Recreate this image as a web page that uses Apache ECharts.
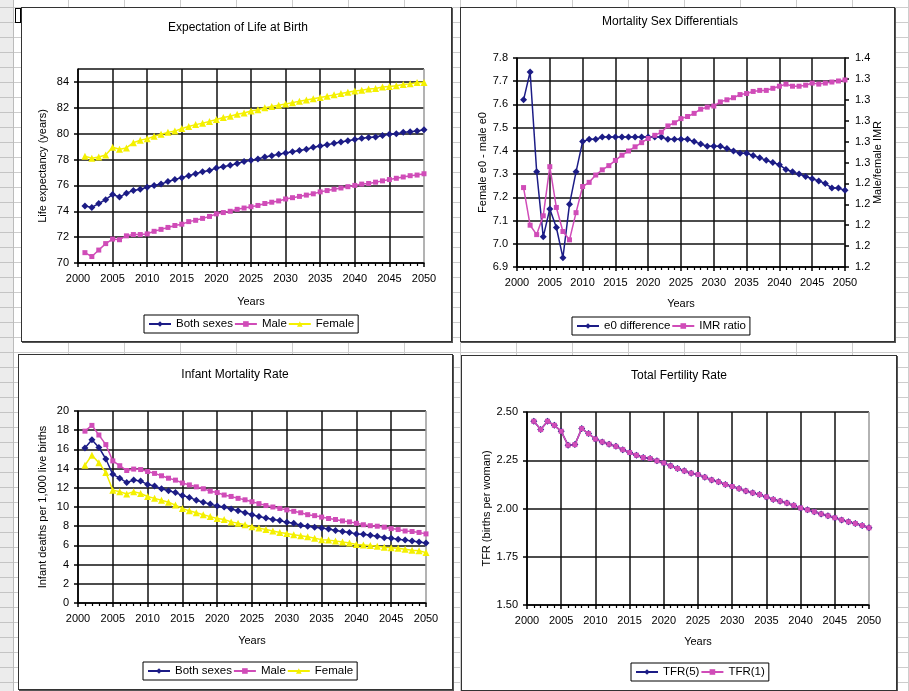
<!DOCTYPE html>
<html>
<head>
<meta charset="utf-8">
<script src="https://cdn.jsdelivr.net/npm/echarts@6/dist/echarts.min.js"></script>
<style>
html,body{margin:0;padding:0;}
body{width:909px;height:691px;overflow:hidden;position:relative;background-color:#fff;
background-image:linear-gradient(to right,#cdcdcd 1px,transparent 1px),linear-gradient(to bottom,#cdcdcd 1px,transparent 1px);
background-size:56px 15px;background-position:12px 7px;}
#rowhdr{position:absolute;left:0;top:0;width:13px;height:691px;background:#ececec;
background-image:linear-gradient(to bottom,#c4c4c4 1px,transparent 1px);background-size:13px 15px;background-position:0 7px;border-right:1px solid #bbb;}
.panel{position:absolute;box-sizing:border-box;background:#fff;border:1px solid #333;box-shadow:1px 1px 0 #555;}
.chart{position:absolute;left:0;top:0;right:0;bottom:0;}
#handle{position:absolute;left:15px;top:8px;width:4px;height:13px;border:1px solid #000;background:#fff;}
</style>
</head>
<body>
<div id="rowhdr"></div>
<div class="panel" style="left:21px;top:7px;width:431px;height:335px;"><div class="chart" id="c1"></div></div>
<div class="panel" style="left:460px;top:7px;width:435px;height:335px;"><div class="chart" id="c2"></div></div>
<div class="panel" style="left:18px;top:354px;width:435px;height:336px;"><div class="chart" id="c3"></div></div>
<div class="panel" style="left:461px;top:355px;width:436px;height:336px;"><div class="chart" id="c4"></div></div>
<div id="handle"></div>
<script>
// ---------- DATA ----------
const years = [2001,2002,2003,2004,2005,2006,2007,2008,2009,2010,
2011,2012,2013,2014,2015,2016,2017,2018,2019,2020,
2021,2022,2023,2024,2025,2026,2027,2028,2029,2030,
2031,2032,2033,2034,2035,2036,2037,2038,2039,2040,
2041,2042,2043,2044,2045,2046,2047,2048,2049,2050];

// Expectation of Life at Birth
const e0Both = [74.4,74.3,74.6,74.9,75.3,75.1,75.4,75.6,75.7,75.85,
76.0,76.1,76.3,76.45,76.6,76.75,76.9,77.05,77.15,77.35,
77.45,77.55,77.7,77.85,77.95,78.05,78.2,78.3,78.4,78.5,
78.6,78.7,78.8,78.95,79.05,79.15,79.25,79.35,79.45,79.55,
79.65,79.7,79.75,79.85,79.95,80.0,80.1,80.15,80.2,80.3];
const e0Male = [70.8,70.5,71.0,71.5,71.85,71.8,72.1,72.2,72.2,72.25,
72.45,72.6,72.75,72.9,73.0,73.2,73.3,73.45,73.6,73.8,
73.9,74.0,74.15,74.25,74.35,74.45,74.6,74.7,74.8,74.95,
75.05,75.15,75.25,75.35,75.5,75.6,75.7,75.8,75.9,76.0,
76.1,76.15,76.25,76.35,76.45,76.55,76.65,76.75,76.8,76.9];
const e0Female = [78.25,78.1,78.2,78.35,78.95,78.8,78.9,79.3,79.5,79.6,
79.8,79.95,80.1,80.2,80.4,80.55,80.7,80.8,80.95,81.1,
81.25,81.35,81.5,81.6,81.75,81.85,82.0,82.1,82.2,82.3,
82.4,82.5,82.6,82.7,82.8,82.9,83.0,83.1,83.2,83.3,
83.35,83.45,83.5,83.6,83.65,83.7,83.8,83.85,83.95,83.95];

// Mortality Sex Differentials
const e0Diff = [7.62,7.74,7.31,7.03,7.15,7.07,6.94,7.17,7.31,7.44,
7.45,7.45,7.46,7.46,7.46,7.46,7.46,7.46,7.46,7.46,
7.46,7.46,7.45,7.45,7.45,7.45,7.44,7.43,7.42,7.42,
7.42,7.41,7.40,7.39,7.39,7.38,7.37,7.36,7.35,7.34,
7.32,7.31,7.30,7.29,7.28,7.27,7.26,7.24,7.24,7.23];
const imrRatio = [1.236,1.200,1.191,1.209,1.256,1.217,1.194,1.186,1.212,1.237,
1.241,1.248,1.253,1.257,1.262,1.267,1.271,1.275,1.279,1.283,
1.286,1.289,1.295,1.298,1.302,1.304,1.307,1.311,1.313,1.314,
1.318,1.320,1.322,1.325,1.326,1.328,1.329,1.329,1.331,1.333,
1.335,1.333,1.333,1.334,1.336,1.335,1.336,1.337,1.338,1.339];

// Infant Mortality Rate
const imrBoth = [16.15,17.0,16.2,15.0,13.4,13.0,12.55,12.8,12.7,12.35,
12.2,11.9,11.7,11.5,11.2,11.0,10.7,10.5,10.3,10.1,
10.0,9.8,9.6,9.4,9.2,9.0,8.85,8.7,8.6,8.4,
8.3,8.1,8.0,7.9,7.8,7.7,7.55,7.45,7.35,7.2,
7.15,7.05,6.95,6.8,6.75,6.65,6.55,6.45,6.35,6.25];
const imrMale = [17.9,18.5,17.5,16.5,14.8,14.3,13.8,13.95,13.9,13.7,
13.5,13.25,13.0,12.8,12.5,12.3,12.1,11.9,11.65,11.5,
11.25,11.1,10.9,10.75,10.55,10.35,10.15,10.0,9.85,9.7,
9.55,9.4,9.2,9.1,8.95,8.8,8.7,8.55,8.45,8.3,
8.15,8.05,8.0,7.9,7.75,7.65,7.5,7.45,7.35,7.2];
const imrFemale = [14.35,15.4,14.6,13.6,11.75,11.6,11.35,11.6,11.4,11.1,
10.9,10.7,10.5,10.2,9.85,9.6,9.4,9.2,9.0,8.8,
8.7,8.45,8.3,8.15,7.95,7.8,7.65,7.5,7.35,7.25,
7.1,7.0,6.9,6.75,6.6,6.55,6.45,6.35,6.25,6.1,
6.05,6.0,5.9,5.8,5.75,5.7,5.6,5.5,5.45,5.25];

// Total Fertility Rate
const tfr5 = [2.452,2.409,2.452,2.431,2.400,2.328,2.331,2.414,2.388,2.360,
2.345,2.333,2.322,2.305,2.290,2.276,2.264,2.259,2.247,2.236,
2.221,2.207,2.195,2.183,2.176,2.162,2.148,2.138,2.124,2.114,
2.103,2.091,2.081,2.072,2.060,2.047,2.038,2.028,2.016,2.003,
1.993,1.983,1.972,1.962,1.952,1.941,1.931,1.922,1.912,1.900];
const tfr1 = [2.452,2.409,2.452,2.431,2.400,2.328,2.331,2.414,2.388,2.360,
2.345,2.333,2.322,2.305,2.290,2.276,2.264,2.259,2.247,2.236,
2.221,2.207,2.195,2.183,2.176,2.162,2.148,2.138,2.124,2.114,
2.103,2.091,2.081,2.072,2.060,2.047,2.038,2.028,2.016,2.003,
1.993,1.983,1.972,1.962,1.952,1.941,1.931,1.922,1.912,1.900];

const xTicks = {min:2000, max:2050, interval:5};

// ---------- STYLE ----------
const FONT = '"Liberation Sans", Arial, sans-serif';
const NAVY = '#1c1c86', MAG = '#d04cb8', YEL = '#f4f000';
const txt = (s) => ({color:'#000', fontSize:s, fontFamily:FONT});
const xSplitColors = ['#111','#111','#111','#111','#111','#111','#111','#111','#111','#111','#9a9a9a'];

function pairs(vals){ return years.map((y,i)=>[y, vals[i]]); }

function line(name, vals, color, symbol, size, yIdx){
  return {type:'line', name, data:pairs(vals), yAxisIndex:yIdx||0,
    symbol, symbolSize:size, showSymbol:true, showAllSymbol:true,
    lineStyle:{color, width:1.5}, itemStyle:{color, borderWidth:0},
    emphasis:{disabled:true}, animation:false};
}

function xAxisCfg(nameGap){
  return {type:'value', min:xTicks.min, max:xTicks.max, interval:xTicks.interval,
    axisLine:{show:true, onZero:false, lineStyle:{color:'#000', width:1.5}},
    axisTick:{show:true, length:4, lineStyle:{color:'#000', width:1.5}},
    minorTick:{show:true, splitNumber:5, length:3, lineStyle:{color:'#000', width:1.2}},
    axisLabel:Object.assign({margin:10, showMinLabel:true, showMaxLabel:true, formatter:(v)=>String(v)}, txt(11)),
    splitLine:{show:true, lineStyle:{color:xSplitColors, width:1.5}},
    name:'Years', nameLocation:'middle', nameGap, nameTextStyle:txt(11)};
}

function yAxisCfg(o){
  return Object.assign({type:'value', position:'left',
    axisLine:{show:true, onZero:false, lineStyle:{color:'#000', width:1.5}},
    axisTick:{show:true, length:4, lineStyle:{color:'#000', width:1.5}},
    splitLine:{show:true, lineStyle:{color:'#111', width:1.5}},
    nameLocation:'middle', nameRotate:90, nameMoveOverlap:false, nameTextStyle:txt(11)}, o);
}

// layout helper (absolute page coords -> chart coords)
function build(id, panel, plot, titleText, titleC, legendPos, xGap, yAxes, series, legendData){
  const ox = panel[0]+1, oy = panel[1]+1;
  const W = panel[2]-2, H = panel[3]-2;
  const chart = echarts.init(document.getElementById(id), null, {renderer:'canvas'});
  chart.setOption({
    animation:false,
    backgroundColor:'transparent',
    title:{text:titleText, left:titleC[0]-ox, top:titleC[1]-oy-5, textAlign:'center', padding:0,
      textStyle:Object.assign({fontWeight:'normal'}, txt(12))},
    grid:{left:plot[0]-ox, top:plot[1]-oy, right:(ox+W)-plot[2], bottom:(oy+H)-plot[3], containLabel:false},
    legend:{show:true, left:legendPos[0]-ox, top:legendPos[1]-oy, orient:'horizontal',
      data:legendData, itemWidth:22, itemHeight:7, itemGap:1, padding:[3,4,3,4],
      borderColor:'#000', borderWidth:1, backgroundColor:'#fff',
      textStyle:txt(11.5), selectedMode:false},
    xAxis:xAxisCfg(xGap),
    yAxis:yAxes,
    series
  });
}

// Panel 1
build('c1', [21,7,431,335], [78,69,424,263], 'Expectation of Life at Birth', [238,27], [144,315], 33,
  [yAxisCfg({min:70, max:85, interval:2, name:'Life expectancy (years)', nameGap:30,
    axisLabel:Object.assign({margin:9, showMaxLabel:false}, txt(11))})],
  [line('Both sexes', e0Both, NAVY, 'diamond', 7),
   line('Male', e0Male, MAG, 'rect', 5),
   line('Female', e0Female, YEL, 'triangle', 7)],
  ['Both sexes','Male','Female']);

// Panel 2
build('c2', [460,7,435,335], [517,58,845,267], 'Mortality Sex Differentials', [670,21], [572,317], 31,
  [yAxisCfg({min:6.9, max:7.8, interval:0.1, name:'Female e0 - male e0', nameGap:29,
    axisLabel:Object.assign({margin:9, formatter:(v)=>v.toFixed(1)}, txt(11))}),
   yAxisCfg({position:'right', min:1.16, max:1.36, interval:0.02, name:'Male/female IMR', nameGap:27,
    splitLine:{show:false},
    axisLabel:Object.assign({margin:10, formatter:(v)=>v.toFixed(1)}, txt(11))})],
  [line('e0 difference', e0Diff, NAVY, 'diamond', 7, 0),
   line('IMR ratio', imrRatio, MAG, 'rect', 5, 1)],
  ['e0 difference','IMR ratio']);

// Panel 3
build('c3', [18,354,435,336], [78,411,426,603], 'Infant Mortality Rate', [235,374], [143,662], 32,
  [yAxisCfg({min:0, max:20, interval:2, name:'Infant deaths per 1,000 live births', nameGap:30,
    axisLabel:Object.assign({margin:9}, txt(11))})],
  [line('Both sexes', imrBoth, NAVY, 'diamond', 7),
   line('Male', imrMale, MAG, 'rect', 5),
   line('Female', imrFemale, YEL, 'triangle', 7)],
  ['Both sexes','Male','Female']);

// Panel 4
build('c4', [461,355,436,336], [527,412,869,605], 'Total Fertility Rate', [679,375], [631,663], 31,
  [yAxisCfg({min:1.5, max:2.5, interval:0.25, name:'TFR (births per woman)', nameGap:35,
    axisLabel:Object.assign({margin:9, formatter:(v)=>v.toFixed(2)}, txt(11))})],
  [line('TFR(5)', tfr5, NAVY, 'diamond', 7),
   line('TFR(1)', tfr1, MAG, 'rect', 5)],
  ['TFR(5)','TFR(1)']);
</script>
</body>
</html>
